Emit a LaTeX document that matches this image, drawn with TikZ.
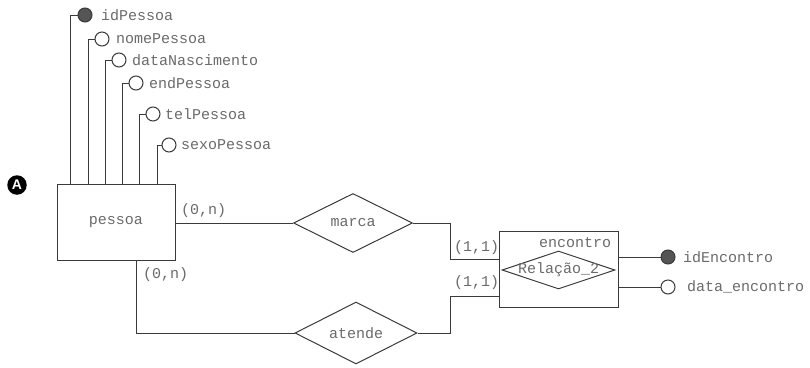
\documentclass[tikz,border=0pt]{standalone}
\usepackage{fontspec}
\setmonofont{Liberation Mono}
\setsansfont{Liberation Sans}
\usetikzlibrary{shapes.geometric,calc}
\definecolor{linec}{HTML}{3A3A3A}
\definecolor{txtc}{HTML}{6A6A6A}
\definecolor{keyc}{HTML}{555555}
\begin{document}
\begin{tikzpicture}[x=1pt,y=-1pt,
  line/.style={draw=linec, line width=1pt},
  txt/.style={font=\ttfamily\fontsize{15}{15}\selectfont, text=txtc, inner sep=0pt},
  ent/.style={draw=linec, line width=1pt, rectangle, inner sep=0pt},
  reldia/.style={draw=linec, line width=1pt, diamond, inner sep=0pt},
  attk/.style={circle, draw=linec, fill=keyc, line width=1pt, minimum size=14pt, inner sep=0pt},
  atto/.style={circle, draw=linec, fill=white, line width=1pt, minimum size=14pt, inner sep=0pt}]
\useasboundingbox (0,0) rectangle (810,367);

% marker
\node[circle, fill=black, minimum size=19.5pt, inner sep=0pt, text=white,
      font=\sffamily\bfseries\fontsize{14}{14}\selectfont] (mark) at (17,185) {A};

% pessoa entity
\node[ent, minimum width=118pt, minimum height=76pt] (pessoa) at (116,222) {};
\node[txt] (pessoaT) at (pessoa) {pessoa};

% attributes of pessoa
\node[attk] (idP) at (85,15) {};
\node[txt, anchor=west] (idPT) at (101,15) {idPessoa};
\node[atto] (nomeP) at (102,39) {};
\node[txt, anchor=west] (nomePT) at (116,39) {nomePessoa};
\node[atto] (dataN) at (119,60) {};
\node[txt, anchor=west] (dataNT) at (132,60) {dataNascimento};
\node[atto] (endP) at (136,83) {};
\node[txt, anchor=west] (endPT) at (149,83) {endPessoa};
\node[atto] (telP) at (153,114) {};
\node[txt, anchor=west] (telPT) at (165,114) {telPessoa};
\node[atto] (sexoP) at (169,145) {};
\node[txt, anchor=west] (sexoPT) at (181,145) {sexoPessoa};

\draw[line] (idP.west) -| ($(pessoa.north west)+(14,0)$);
\draw[line] (nomeP.west) -| ($(pessoa.north west)+(32,0)$);
\draw[line] (dataN.west) -| ($(pessoa.north west)+(49,0)$);
\draw[line] (endP.west) -| ($(pessoa.north west)+(66,0)$);
\draw[line] (telP.west) -| ($(pessoa.north west)+(83,0)$);
\draw[line] (sexoP.west) -| ($(pessoa.north west)+(101,0)$);

% relationships
\node[reldia, minimum width=119pt, minimum height=59pt] (marca) at (353,223) {};
\node[txt] (marcaT) at (marca) {marca};
\node[reldia, minimum width=122pt, minimum height=62pt] (atende) at (356,333) {};
\node[txt] (atendeT) at (atende) {atende};

% encontro (associative entity)
\node[ent, minimum width=119pt, minimum height=76pt] (enc) at (558.5,269) {};
\node[txt] (encT) at (575,243) {encontro};
\node[reldia, minimum width=113pt, minimum height=38pt] (rel2) at (558.5,270) {};
\node[txt] (rel2T) at (rel2) {Relação\_2};

% connectors
\draw[line] (pessoa.east |- marca.west) -- (marca.west);
\node[txt, anchor=west] (c1) at (181,211) {(0,n)};
\draw[line] (marca.east) -| ($(enc.west)+(-48,-10)$) -- ($(enc.west)+(0,-10)$);
\node[txt, anchor=west] (c2) at (454,248) {(1,1)};

\draw[line] ($(pessoa.south west)+(80,0)$) |- (atende.west);
\node[txt, anchor=west] (c3) at (143,275) {(0,n)};
\draw[line] (atende.east) -| ($(enc.west)+(-48,27)$) -- ($(enc.west)+(0,27)$);
\node[txt, anchor=west] (c4) at (454,283) {(1,1)};

% encontro attributes
\node[attk] (idE) at (668,257) {};
\node[txt, anchor=west] (idET) at (683,257) {idEncontro};
\node[atto] (dataE) at (668,287) {};
\node[txt, anchor=west] (dataET) at (687,287) {data\_encontro};
\draw[line] (enc.east |- idE) -- (idE.west);
\draw[line] (enc.east |- dataE) -- (dataE.west);
\end{tikzpicture}
\end{document}
